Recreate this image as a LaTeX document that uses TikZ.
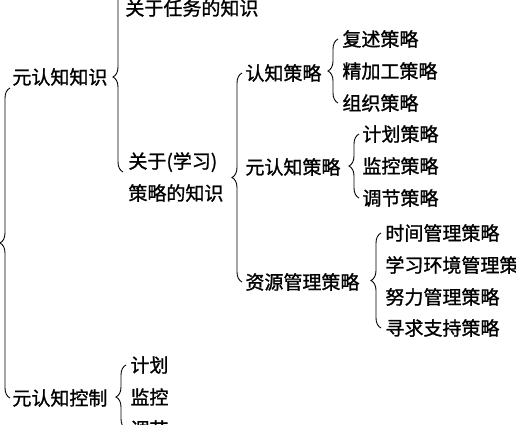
\documentclass[tikz,border=0pt]{standalone}
\usepackage{fontspec}
\newfontfamily\cjk{Noto Sans CJK SC}[FakeBold=1.2]
\usetikzlibrary{decorations.pathreplacing}

\tikzset{every picture/.style={line width=0.9pt}}
\tikzset{
  leaf/.style={anchor=west, inner sep=0pt, align=left, font=\cjk\fontsize{19}{32}\selectfont},
  brc/.style={decorate, decoration={brace, mirror, amplitude=10pt}}
}

\begin{document}
\begin{tikzpicture}[x=1pt,y=1pt,yscale=-1,xscale=1]
%set diagram left start at 0, and has height of 425
\clip (0,0) rectangle (516,425);

% Text Node
\node [leaf] (meta) at (12,77) {元认知知识};
% Text Node
\node [leaf] (task) at (125,8) {关于任务的知识};
% Text Node
\node [leaf] (strat) at (128,177) {关于(学习)\\策略的知识};
% Text Node
\node [leaf] (cog) at (245,73) {认知策略};
% Text Node
\node [leaf] (rehearse) at (342,39) {复述策略};
\node [leaf] (elab) at (342,71) {精加工策略};
\node [leaf] (organ) at (342,103) {组织策略};
% Text Node
\node [leaf] (metas) at (245,167) {元认知策略};
% Text Node
\node [leaf] (plan) at (362,134) {计划策略};
\node [leaf] (monitor) at (362,166) {监控策略};
\node [leaf] (regul) at (362,198) {调节策略};
% Text Node
\node [leaf] (res) at (245,282) {资源管理策略};
% Text Node
\node [leaf] (time) at (385,233) {时间管理策略};
\node [leaf] (env) at (385,265) {学习环境管理策略};
\node [leaf] (effort) at (385,297) {努力管理策略};
\node [leaf] (support) at (385,328) {寻求支持策略};
% Text Node
\node [leaf] (ctrl) at (12,398) {元认知控制};
% Text Node
\node [leaf] (cplan) at (130,365) {计划};
\node [leaf] (cmon) at (130,397) {监控};
\node [leaf] (creg) at (130,429) {调节};

%Curly Brace (free ends)
\coordinate (rtop) at (10,88);
\coordinate (ktop) at (123,-18);
\coordinate (kbot) at (123,172);
\draw [brc] (rtop) -- ([xshift=-2pt]ctrl.west);
\draw [brc] (ktop) -- (kbot);
%Curly Brace
\draw [brc] ([xshift=-3pt]cog.west) -- ([xshift=-3pt]res.west);
\draw [brc] ([xshift=-4pt]rehearse.west) -- ([xshift=-4pt]organ.west);
\draw [brc] ([xshift=-3pt]plan.west) -- ([xshift=-3pt]regul.west);
\draw [brc] ([xshift=-4pt]time.west) -- ([xshift=-4pt]support.west);
\draw [brc] ([xshift=-4pt]cplan.west) -- ([xshift=-4pt]creg.west);

\end{tikzpicture}
\end{document}
